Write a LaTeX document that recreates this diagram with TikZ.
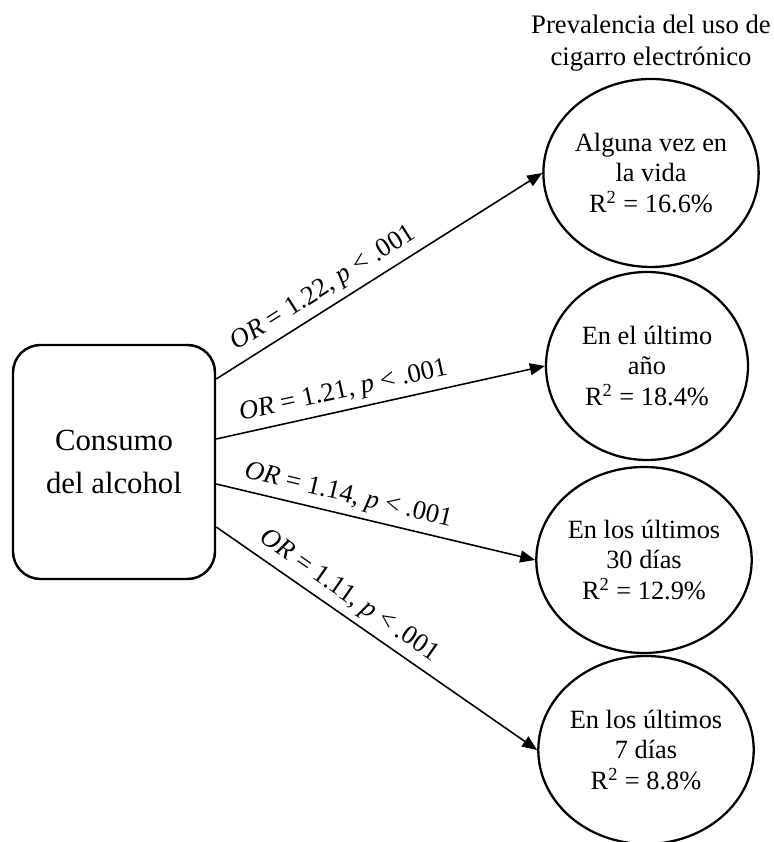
\documentclass[tikz,border=0pt]{standalone}
\usepackage{fontspec}
\setmainfont{Liberation Serif}
\usetikzlibrary{shapes, arrows.meta, positioning, calc}

\begin{document}
\begin{tikzpicture}[
  outcome/.style={draw, line width=1.3pt, ellipse, minimum width=4.04cm, minimum height=3.76cm,
    inner sep=0pt, align=center, font=\fontsize{15}{17.6}\selectfont},
  effect/.style={-{Triangle[length=0.3cm, width=0.24cm]}, line width=0.9pt},
  coef/.style={sloped, above, inner sep=3.5pt, font=\fontsize{15.2}{17}\selectfont}
]
\useasboundingbox (0,0) rectangle (15.46,16.84);

% Predictor
\node[draw, line width=1.4pt, rounded corners=0.55cm, minimum width=4.04cm, minimum height=4.68cm,
  align=center, font=\fontsize{17.5}{24.5}\selectfont] (alcohol) at (2.28, 7.6) {Consumo\\del alcohol};

% Outcomes
\node[outcome, minimum width=4.24cm] (vida) at (13.02, 13.38) {Alguna vez en\\la vida\\R\textsuperscript{2} = 16.6\%};
\node[outcome] (anio) at (12.94, 9.52) {En el último\\año\\R\textsuperscript{2} = 18.4\%};
\node[outcome, minimum height=3.72cm] (treinta) at (12.88, 5.64) {En los últimos\\30 días\\R\textsuperscript{2} = 12.9\%};
\node[outcome] (siete) at (12.92, 1.84) {En los últimos\\7 días\\R\textsuperscript{2} = 8.8\%};

% Title
\node[above=0.12cm of vida, inner sep=0pt, align=center, font=\fontsize{15.2}{18.2}\selectfont] (titulo)
  {Prevalencia del uso de\\cigarro electrónico};

% Paths
\draw[effect] ([yshift=1.66cm]alcohol.east) -- node[coef, pos=0.36] {\textit{OR} = 1.22, \textit{p} < .001} (vida.west);
\draw[effect] ([yshift=0.46cm]alcohol.east) -- node[coef, pos=0.4] {\textit{OR} = 1.21, \textit{p} < .001} (anio.west);
\draw[effect] ([yshift=-0.44cm]alcohol.east) -- node[coef, pos=0.4] {\textit{OR} = 1.14, \textit{p} < .001} (treinta.west);
\draw[effect] ([yshift=-1.3cm]alcohol.east) -- node[coef, pos=0.38] {\textit{OR} = 1.11, \textit{p} < .001} (siete.west);
\end{tikzpicture}
\end{document}
